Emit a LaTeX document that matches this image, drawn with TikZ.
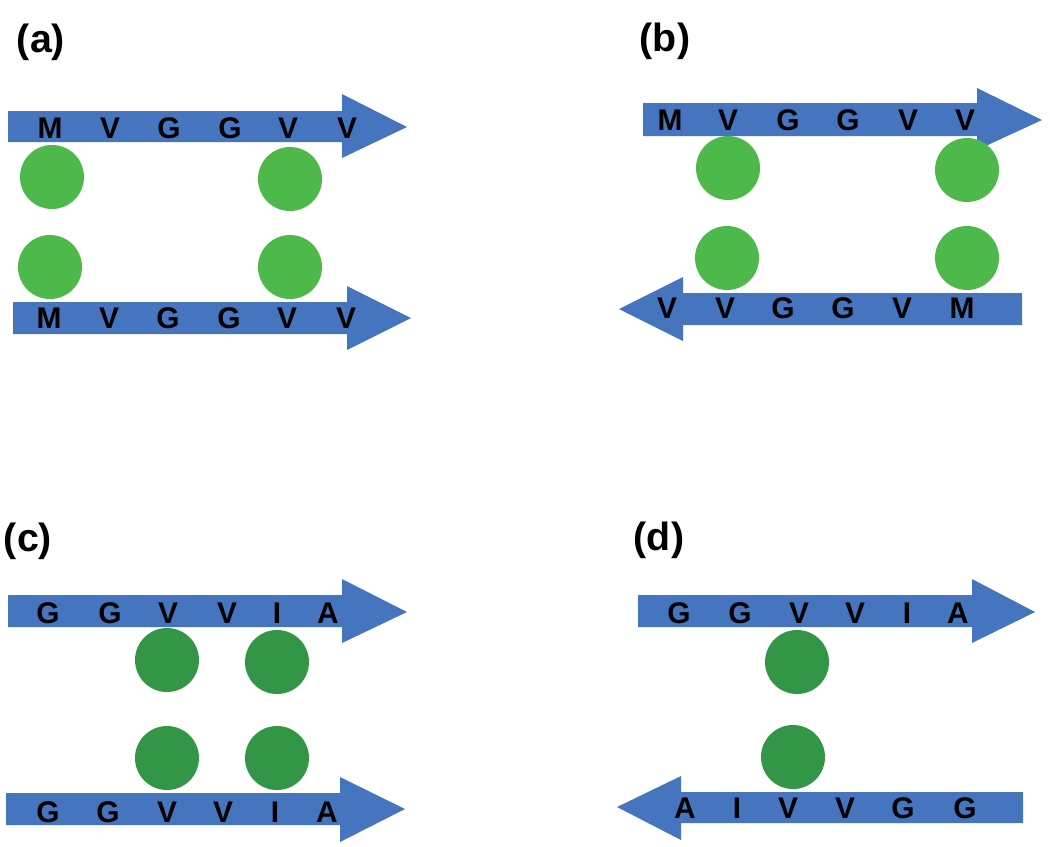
\documentclass[tikz,border=0pt]{standalone}
\usepackage{fontspec}
\setmainfont{Liberation Sans}
\usepackage{tikz}

\definecolor{strandblue}{RGB}{70,117,192}
\definecolor{beadlight}{RGB}{76,185,74}
\definecolor{beaddark}{RGB}{50,150,70}

\begin{document}
\begin{tikzpicture}[x=0.02cm, y=-0.02cm, font=\bfseries,
    strand/.style={fill=strandblue},
    res/.style={anchor=base, inner sep=0pt, font=\fontsize{17}{18}\bfseries},
    panel/.style={inner sep=0pt, font=\fontsize{22.4}{24}\bfseries},
    bead/.style={circle, inner sep=0pt, minimum size=1.28cm},
    beadA/.style={bead, fill=beadlight},
    beadC/.style={bead, fill=beaddark}]
    \useasboundingbox (0,0) rectangle (1050,846);

    % (a) parallel, same register
    \node [panel] (la) at (41,42) {(a)};
    \fill [strand] (8,111) -- (342,111) -- (342,94) -- (407,127) -- (342,158) -- (342,142) -- (8,142) -- cycle;
    \fill [strand] (13,302) -- (347,302) -- (347,286) -- (411,318) -- (347,350) -- (347,334) -- (13,334) -- cycle;
    \foreach \x/\l [count=\i] in {50/M, 110/V, 169/G, 230/G, 288/V, 347/V} {
        \node [res] (at\i) at (\x,138) {\l};
        \node [res] (ab\i) at (\x-1,328) {\l};
    }
    \node [beadA] (a1) at (52,177) {};
    \node [beadA] (a2) at (290,179) {};
    \node [beadA] (a3) at (50,267) {};
    \node [beadA] (a4) at (290,267) {};

    % (b) antiparallel
    \node [panel] (lb) at (665,41) {(b)};
    \fill [strand] (643,103) -- (977,103) -- (977,88) -- (1042,120) -- (977,150) -- (977,136) -- (643,136) -- cycle;
    \fill [strand] (1022,293) -- (683,293) -- (683,277) -- (619,309) -- (683,341) -- (683,325) -- (1022,325) -- cycle;
    \foreach \x/\l [count=\i] in {670/M, 728/V, 788/G, 848/G, 908/V, 965/V}
        \node [res] (bt\i) at (\x,130) {\l};
    \foreach \x/\l [count=\i] in {667/V, 725/V, 783/G, 843/G, 902/V, 962/M}
        \node [res] (bb\i) at (\x,318) {\l};
    \node [beadA] (b1) at (728,168) {};
    \node [beadA] (b2) at (967,170) {};
    \node [beadA] (b3) at (727,258) {};
    \node [beadA] (b4) at (967,258) {};

    % (c) parallel
    \node [panel] (lc) at (28,541) {(c)};
    \fill [strand] (8,595) -- (342,595) -- (342,579) -- (407,612) -- (342,643) -- (342,627) -- (8,627) -- cycle;
    \fill [strand] (6,793) -- (340,793) -- (340,777) -- (405,809) -- (340,842) -- (340,825) -- (6,825) -- cycle;
    \foreach \x/\l [count=\i] in {48/G, 110/G, 168/V, 227/V, 277/I, 328/A}
        \node [res] (ct\i) at (\x,623) {\l};
    \foreach \x/\l [count=\i] in {48/G, 108/G, 167/V, 223/V, 275/I, 327/A}
        \node [res] (cb\i) at (\x,822) {\l};
    \node [beadC] (c1) at (167,660) {};
    \node [beadC] (c2) at (277,662) {};
    \node [beadC] (c3) at (167,758) {};
    \node [beadC] (c4) at (277,758) {};

    % (d) antiparallel
    \node [panel] (ld) at (659,540) {(d)};
    \fill [strand] (638,595) -- (972,595) -- (972,579) -- (1035,612) -- (972,643) -- (972,627) -- (638,627) -- cycle;
    \fill [strand] (1023,792) -- (681,792) -- (681,776) -- (617,807) -- (681,840) -- (681,823) -- (1023,823) -- cycle;
    \foreach \x/\l [count=\i] in {679/G, 740/G, 799/V, 855/V, 907/I, 958/A}
        \node [res] (dt\i) at (\x,623) {\l};
    \foreach \x/\l [count=\i] in {685/A, 737/I, 788/V, 845/V, 903/G, 965/G}
        \node [res] (db\i) at (\x,818) {\l};
    \node [beadC] (d1) at (797,662) {};
    \node [beadC] (d2) at (793,757) {};
\end{tikzpicture}
\end{document}
